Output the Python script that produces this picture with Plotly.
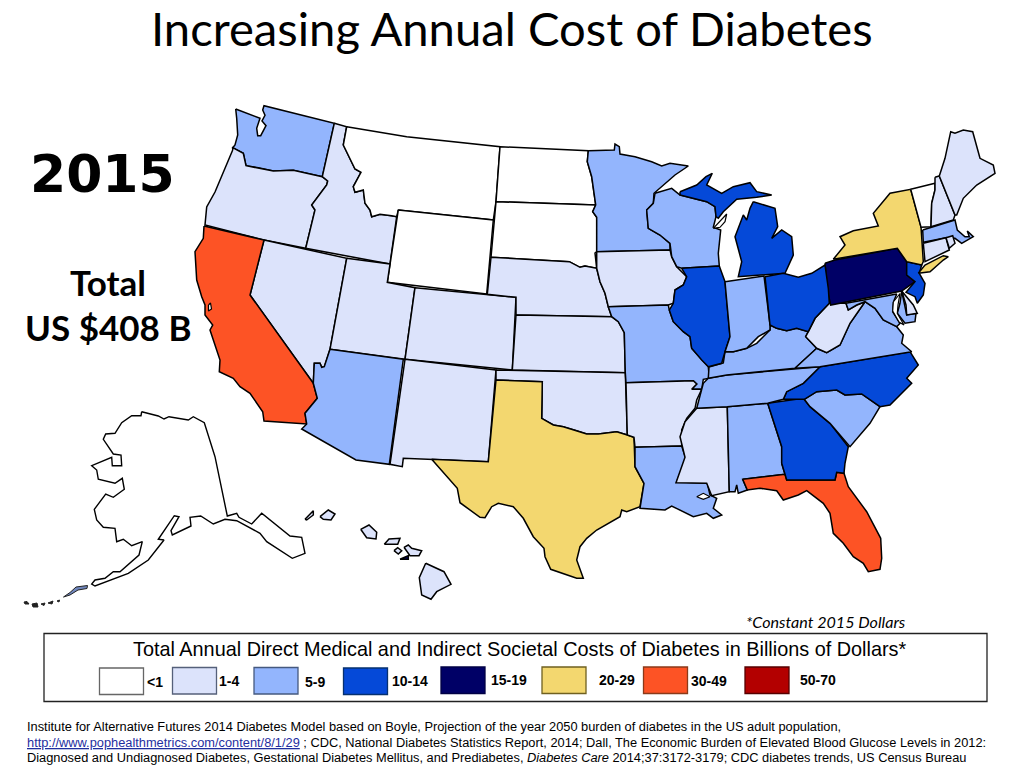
import plotly.graph_objects as go

# ---- legend / cost bands ----
band_labels = ["<1", "1-4", "5-9", "10-14", "15-19", "20-29", "30-49", "50-70"]
band_colors = ["#ffffff", "#dce3fb", "#93b5fd", "#0549d8", "#000066", "#f3d76f", "#fd5325", "#b30000"]
band_edges = ["#666666", "#55607a", "#45597f", "#06306f", "#000044", "#6f6020", "#8a3a1a", "#550000"]
swatch_x0 = [99.5, 172.5, 254, 343.5, 441, 542, 643.5, 745]
swatch_y0 = [668, 667.5, 667.5, 668, 667, 667, 667, 667]
label_x = [145, 217, 303, 390, 489, 597, 689, 798]
label_y = [682, 681, 682, 681, 680, 680, 681, 680]

# ---- cost band of each region ----
band = {
    "Washington": "5-9", "Oregon": "1-4", "California": "30-49", "Idaho": "1-4", "Montana": "<1",
    "Wyoming": "<1", "Nevada": "1-4", "Utah": "1-4", "Colorado": "1-4", "New Mexico": "1-4",
    "Arizona": "5-9", "North Dakota": "<1", "South Dakota": "<1", "Nebraska": "1-4", "Kansas": "1-4",
    "Oklahoma": "1-4", "Texas": "20-29", "Minnesota": "5-9", "Iowa": "1-4", "Missouri": "5-9",
    "Arkansas": "1-4", "Louisiana": "5-9", "Mississippi": "1-4", "Alabama": "5-9", "Florida": "30-49",
    "Georgia": "10-14", "South Carolina": "5-9", "North Carolina": "10-14", "Tennessee": "5-9",
    "Kentucky": "5-9", "Virginia": "5-9", "West Virginia": "1-4", "Maryland": "5-9", "Delmarva": "5-9",
    "Delaware": "1-4", "Pennsylvania": "15-19", "New Jersey": "10-14", "New York": "20-29",
    "Long Island": "20-29", "Vermont": "<1", "New Hampshire": "1-4", "Maine": "1-4",
    "Massachusetts": "5-9", "Connecticut": "1-4", "Rhode Island": "1-4", "Wisconsin": "5-9",
    "Michigan UP": "10-14", "Michigan LP": "10-14", "Illinois": "10-14", "Indiana": "5-9", "Ohio": "10-14",
    "Alaska": "<1", "Niihau": "1-4", "Kauai": "1-4", "Oahu": "1-4", "Molokai": "1-4", "Lanai": "1-4",
    "Maui": "1-4", "Kahoolawe": "15-19", "Hawaii": "1-4",
}

# ---- outlines ----
outlines = {
    "Alaska": [(141.7,411.7),(158.3,416),(164,419),(169,416.7),(188.3,420),(193.3,416.7),(204.3,422.7),(215,456.7),(227.3,516),(236.7,513.3),(239,517.3),(251.7,524),(261.7,513.3),(290,536),(301.7,537.3),(305,553.3),(292.3,558.3),(266.7,541.7),(260,533.3),(236.7,520.7),(225,519.3),(213.3,524),(200.7,516),(190,517.3),(191,526),(178.3,531.7),(172.3,535),(171,530.7),(179,516.7),(174.3,515.7),(158.3,539.3),(164,540),(148.3,560),(128.3,573.3),(95,586),(91.7,584),(95,580),(105,578.3),(113.3,571.7),(120,571.7),(139,555),(142.3,541.7),(131.7,545.7),(123.3,539.3),(116.7,541.7),(115,528.3),(103.3,527.3),(96.7,520),(94.3,509.3),(105.7,494),(113.3,497.3),(124.3,489.3),(122.3,478.3),(115,483.3),(98.3,479.3),(96.7,470),(91.7,465.7),(111.7,457.3),(112.3,465.7),(121.7,465.7),(121,455),(113.3,454),(103.3,439.3),(105.7,434),(115,433.3),(121.7,422.7),(131.7,415.7),(141,415.7)],
    "Washington": [(235.7,109),(236.7,118.3),(237.7,135),(235,145),(232.7,147.7),(243.3,153.3),(246,165.7),(258.3,167.7),(273.3,171),(293.3,170.3),(322.3,176.7),(334.3,123.3),(264,105.7),(262.7,110),(265,115.3),(262,121),(266,125.7),(260.7,135.7),(257.7,135.7),(256.7,128.3),(260,118.3)],
    "Oregon": [(232.7,150),(223,172),(215,192),(206.7,207),(205,225),(264,240),(305.7,248.3),(315,210),(311.7,205),(326.7,185),(327.7,181),(322.3,176.7),(293.3,170.3),(273.3,171),(258.3,167.7),(246,165.7),(243.3,153.3),(232.7,147.7)],
    "Idaho": [(334.3,123.3),(346.7,126.7),(343.3,145),(350,158.3),(355,169),(361,172.3),(353.3,186.7),(355,192.3),(363.3,190),(365,203.3),(370,210),(371.7,216.7),(380,214.3),(391.7,215.7),(396.7,216.7),(390,264),(305.7,248.3),(315,210),(311.7,205),(326.7,185),(327.7,181),(322.3,176.7)],
    "Montana": [(346.7,126.7),(406.7,136.7),(500,146.7),(496,201.7),(493.3,220),(398.3,210),(396.7,216.7),(391.7,215.7),(380,214.3),(371.7,216.7),(370,210),(365,203.3),(363.3,190),(355,192.3),(353.3,186.7),(361,172.3),(355,169),(350,158.3),(343.3,145)],
    "Wyoming": [(398.3,210),(493.3,220),(486.7,294),(387.3,282.3)],
    "Nevada": [(264,240),(346.7,258.3),(330,349.3),(324.3,366.7),(321.7,367.3),(320,363.3),(314.3,363.3),(313.3,383.3),(250,295)],
    "California": [(204,226),(264,240),(250,295),(313.3,383.3),(317.3,398.3),(305,413.3),(306.7,424),(264,421),(262.7,411.7),(250,393.3),(240,386.7),(233.3,378.3),(219.3,371.7),(220,360),(210,330),(212.7,325),(205,315),(205,305),(201.7,296.7),(196.7,280),(195,251.7),(203.3,238.3)],
    "Utah": [(346.7,258.3),(390,264),(387.3,282.3),(415,287.7),(405,359.3),(330,349.3)],
    "Colorado": [(415,287.7),(516,297.3),(512.3,370),(405,359.3)],
    "New Mexico": [(405,359.3),(496,370),(488.3,461.7),(431.7,459),(403.3,458.3),(402.3,466.7),(390,464.3)],
    "Arizona": [(330,349.3),(403.3,359.3),(389.3,464.3),(356,460),(301.7,429),(306.7,424),(305,413.3),(317.3,398.3),(313.3,383.3),(314.3,363.3),(320,363.3),(321.7,367.3),(324.3,366.7)],
    "North Dakota": [(500,146.7),(588.3,150.7),(587.3,161.7),(591.7,176.7),(595.7,205),(496,201.7)],
    "South Dakota": [(496,201.7),(595.7,205),(592.7,211.7),(596.7,217.3),(596.7,251.7),(595,253),(596.7,268.3),(585,266),(580,267.3),(569.3,261.7),(491,257.3)],
    "Nebraska": [(491,257.3),(569.3,261.7),(580,267.3),(585,266),(596.7,268.3),(600,281.7),(605,293.3),(608.3,306.7),(611.7,316.7),(516,315),(516,297.3),(487.3,294.3)],
    "Kansas": [(516,315),(611.7,316.7),(618.3,321.7),(624.3,332.7),(625.3,372.7),(512.3,370)],
    "Oklahoma": [(496,370),(625.3,372.7),(627.3,435),(616.7,431.7),(598.3,434),(586.7,434),(576.7,430.7),(563.3,426.7),(553.3,425),(541.7,418.3),(542.3,381.7),(496,380)],
    "Texas": [(496,380),(542.3,381.7),(541.7,418.3),(553.3,425),(563.3,426.7),(576.7,430.7),(586.7,434),(598.3,434),(616.7,431.7),(627.3,435),(634,437.3),(635,466.7),(644,483.3),(640,506.7),(626.7,511.7),(621.7,510),(620,516.7),(596.7,530),(586.7,538.3),(580,546.7),(576.7,560),(583.3,578.3),(576.7,578.3),(550.7,569.3),(545,556.7),(544,548.3),(533.3,536.7),(523.3,518.3),(513.3,506.7),(498.3,503.3),(491.7,506.7),(485,517.7),(480,517.3),(460,502.7),(457.3,488.3),(431.7,459.3),(488.3,461.7)],
    "Minnesota": [(588.3,150.7),(614.3,150),(615,144),(619.3,146.7),(620,154),(635,156.7),(651.7,161.7),(661.7,166),(670,163.3),(688.3,166),(675,175),(656.7,191.7),(654,193.3),(653.3,203.3),(646.7,210),(648.3,228.3),(660,235),(670,243.3),(670,250),(596.7,251.7),(596.7,217.3),(592.7,211.7),(595.7,205),(591.7,176.7),(587.3,161.7)],
    "Iowa": [(596.7,251.7),(670,250),(671.7,256.7),(676.7,266.7),(686.7,276.7),(683.3,285),(675,290),(673.3,303.3),(668.3,305),(608.3,306.7),(605,293.3),(600,281.7),(596.7,268.3)],
    "Missouri": [(608.3,306.7),(668.3,305),(669.3,310),(673.3,321.7),(683.3,331.7),(690,336.7),(691.7,348.3),(701.7,360),(708.3,366.7),(709.3,378.3),(703.3,379.3),(701.7,389.3),(691.7,389.3),(696.7,384),(693.3,380.7),(626,382.7),(625.3,372.7),(624.3,332.7),(618.3,321.7),(611.7,316.7)],
    "Arkansas": [(626,382.7),(693.3,380.7),(696.7,384),(691.7,389.3),(701.7,389.3),(696.7,400),(695,408.3),(686.7,418.3),(681.7,430),(681.7,446),(635,447.3),(634,437.3),(627.3,435)],
    "Louisiana": [(635,447.3),(681.7,446),(685.7,458.3),(676.7,481.7),(707.3,483.3),(710,495),(716.7,498.3),(713.3,508.3),(721.7,515),(713.3,518.3),(706.7,513.3),(693.3,516.7),(671.7,506),(665,510),(640,508.3),(644,483.3),(635,466.7)],
    "Mississippi": [(696.7,408.3),(727.3,406.7),(729.3,491.7),(711.7,495.7),(706.7,483.3),(676,482.7),(685,457.3),(680,436.7),(685,421.7)],
    "Alabama": [(727.3,406.7),(767.7,403.3),(781.7,446.7),(781.7,463.3),(785,474.3),(742.7,479.3),(747.3,490),(738.3,493.3),(736.7,485),(735,491.7),(729.3,491.7)],
    "Florida": [(742.7,479.3),(785,474.3),(786.7,480),(835,480),(836.7,472.3),(844,473.3),(848.3,486.7),(866.7,511.7),(880.7,538.3),(881.7,558.3),(880,569.3),(868.3,571.7),(863.3,563.3),(853.3,556.7),(843.3,543.3),(833.3,533.3),(830,513.3),(823.3,503.3),(806.7,490.7),(798.3,495),(783.3,500),(776.7,490.7),(760,488.3),(747.3,490)],
    "Georgia": [(767.7,403.3),(803.3,398.3),(810,406.7),(830,423.3),(848.3,446.7),(845,463.3),(844,473.3),(836.7,472.3),(835,480),(786.7,480),(785,474.3),(781.7,463.3),(781.7,446.7)],
    "South Carolina": [(804.3,399.3),(816.7,391.7),(836.7,390),(845,395),(861.7,394),(880,406.7),(870,423.3),(850,446.7),(830,423.3),(810,406.7)],
    "North Carolina": [(910,351.7),(918.3,365),(906.7,378.3),(911.7,383.3),(890,405),(880,406.7),(861.7,394),(845,395),(836.7,390),(816.7,391.7),(804.3,399.3),(783.3,399.3),(786.7,391.7),(803.3,383.3),(820,366.7)],
    "Tennessee": [(708.3,378.3),(726.7,375),(820,366.7),(803.3,383.3),(786.7,391.7),(783.3,399.3),(767.7,403.3),(727.3,406.7),(696.7,408.3),(701,390),(703.3,383.3)],
    "Kentucky": [(708.3,378.3),(709,367),(723.3,363),(725,351.7),(733.3,351.7),(746.7,348.3),(756.7,343.3),(770,330),(770,325),(776.7,328.3),(786.7,330.7),(796.7,328.3),(808.3,331.7),(805.7,336.7),(816.7,348.3),(795,368.3),(726.7,375)],
    "Virginia": [(795,368.3),(816.7,348.3),(826.7,352.7),(840,345),(850,323.3),(865,301.7),(875,308.3),(883.3,320),(886.7,321.7),(896.7,326.7),(903.3,335),(901.7,343.3),(911.7,351.7),(820,366.7)],
    "West Virginia": [(829.3,303.3),(846,303.3),(848.3,310),(856.7,305),(865,301.7),(850,323.3),(840,345),(826.7,352.7),(816.7,348.3),(805.7,336.7),(808.3,331.7),(815,318.3)],
    "Maryland": [(846,303.3),(896.7,294),(893.5,302),(892.7,311.7),(900,323.3),(896.7,326.7),(886.7,321.7),(883.3,320),(875,308.3),(865,301.7),(856.7,305),(848.3,310)],
    "Delmarva": [(901.7,291),(906.7,315),(916,313.3),(915,321.7),(905,323.3),(897.3,313.3),(900,303.3)],
    "Delaware": [(901.7,291),(905,295),(913.3,305),(917.3,313.3),(906.7,315),(906,305)],
    "Pennsylvania": [(825,263.3),(835,260),(897.3,248.3),(906.7,261.7),(906.7,275),(915,281.7),(901.7,291),(830.7,305),(827.3,290)],
    "New Jersey": [(906.7,261.7),(921.7,265),(919.3,273.3),(925,283.3),(923.3,295),(917.3,303.3),(915,296.7),(906,292.3),(915,281.7),(906.7,275)],
    "New York": [(833.3,259.3),(845,245),(840,236.7),(853.3,230.7),(878.3,226),(873.3,213.3),(890,193.3),(910.7,189.3),(921,226.7),(923.3,261.7),(921.7,265),(906.7,261.7),(897.3,248.3)],
    "Long Island": [(918.3,273.3),(925,265),(943.3,255.7),(948.3,256.7),(943.3,260),(930,271.7)],
    "Vermont": [(910.7,189.3),(935,183.3),(935,190),(931.7,203.3),(931,226.7),(921,227.3)],
    "New Hampshire": [(935,177.3),(939.3,176),(955,215),(953.3,220),(931,226.7),(931.7,203.3),(935,190)],
    "Maine": [(939.3,176),(945,158.3),(950.7,131.7),(955,133.3),(963.3,130),(972.7,131.7),(980,158.3),(993.3,165),(995,173.3),(976.7,185),(963.3,198.3),(956.7,215),(955,215)],
    "Massachusetts": [(922.7,230),(955,220),(957.3,230),(965,236.7),(969.3,236.7),(967.3,231),(973.3,236.7),(961.7,243.3),(955,238.3),(946,237.7),(923.3,242.3)],
    "Connecticut": [(923.3,243.3),(946,237.7),(949.3,250),(925,261.7)],
    "Rhode Island": [(946,237.7),(952.7,235.7),(955,243.3),(949.3,248.3)],
    "Wisconsin": [(655,193.3),(671.7,188.3),(680,195),(706.7,201.7),(715,206.7),(716,216.7),(713.3,227.3),(720.7,230),(718.3,253.3),(719.3,266),(681.7,268.3),(676.7,266.7),(671.7,256.7),(670,243.3),(660,235),(648.3,228.3),(646.7,210),(653.3,203.3)],
    "Michigan UP": [(680,191.7),(696.7,185),(706,176.7),(712.3,173.3),(706.7,185),(721.7,193.3),(733.3,186.7),(750,182.7),(756.7,191.7),(771.7,195),(756.7,197.3),(736.7,199.3),(723.3,211.7),(718.3,218.3),(716,216.7),(715,206.7),(706.7,201.7),(680,195)],
    "Michigan LP": [(753.3,201.7),(775,208.3),(777.7,226.7),(771.7,238.3),(781.7,230),(791.7,236.7),(793.3,255),(785,273.3),(738.3,276.7),(741.7,261.7),(735,236.7),(743.3,215),(746.7,220),(750,208.3)],
    "Illinois": [(681.7,268.3),(719.3,266),(725,281.7),(730,336.7),(725,351.7),(721.7,363.3),(708.3,366.7),(701.7,360),(691.7,348.3),(690,336.7),(683.3,331.7),(673.3,321.7),(669.3,310),(673.3,303.3),(675,290),(683.3,285),(686.7,276.7)],
    "Indiana": [(725,281.7),(764,276),(770,325),(770,330),(758.3,336.7),(746.7,348.3),(733.3,351.7),(725,351.7),(730,336.7)],
    "Ohio": [(765,276.7),(783.3,273.3),(798.3,277.3),(811.7,273.3),(825,265),(828.3,288.3),(829.3,303.3),(815,318.3),(808.3,331.7),(796.7,328.3),(786.7,330.7),(776.7,328.3),(770,325)],
    "Niihau": [(305,519.3),(313.3,510.7),(313.3,515),(306.7,520)],
    "Kauai": [(320,516.7),(328.3,510),(335,514),(331,520),(323.3,519.3)],
    "Oahu": [(360.7,529.3),(369,525),(376.7,532.3),(376,539),(366.7,537.7)],
    "Molokai": [(384.3,544.3),(389,539),(400,538.3),(397.7,544.3)],
    "Lanai": [(394,550.7),(397.7,547.7),(401.7,550.7),(398.3,554)],
    "Maui": [(404,547.3),(408.3,545),(411.7,548.3),(421.7,550.7),(419,555.7),(410,555.7)],
    "Kahoolawe": [(400,559.3),(408.3,555.7),(408.3,559.3)],
    "Hawaii": [(425.7,563.3),(444,571.7),(451,584.3),(436.7,591.7),(431,599.3),(421.7,595),(419.3,577.7)],
}

# water bodies and small islands drawn on top
water = {
    "San Francisco Bay": [(208.5,305),(210.5,303),(211.5,309),(208.5,311)],
    "Lake Pontchartrain": [(696.7,496.7),(703.3,493.3),(710,496.7),(703.3,499.3)],
    "Green Bay": [(713.3,228.3),(726.7,214),(725,221.7),(720,227.3)],
    "Chesapeake Bay": [(893.3,302),(900,293.5),(898,305),(897.3,313.3),(904,325),(899,322),(892.7,311)],
}
aleutians = {
    "A1": [(24,602),(27,601.5),(29,604),(25,604)],
    "A2": [(32,604),(37,603),(38,607),(33,607)],
    "A3": [(41,604),(45,603),(44,605.5)],
    "A4": [(48,603),(53,601),(52,604)],
    "A5": [(57,601),(59.5,600),(59,602)],
    "A6": [(63.5,597),(70,592.5),(76,587),(87.5,585.5),(87,588.5),(78,590),(70,595)],
}
aleutian_colors = ["#222222", "#222222", "#222222", "#222222", "#222222", "#6f86bd"]

fig = go.Figure()
color_of = dict(zip(band_labels, band_colors))


def add_poly(name, pts, fill, width=1.7, line="#000000", hover=True):
    xs = [p[0] for p in pts] + [pts[0][0]]
    ys = [p[1] for p in pts] + [pts[0][1]]
    fig.add_trace(go.Scatter(
        x=xs, y=ys, mode="lines", fill="toself", fillcolor=fill, name=name,
        line=dict(color=line, width=width, shape="linear"), showlegend=False,
        hoverinfo="name" if hover else "skip",
    ))


for state, pts in outlines.items():
    add_poly(state, pts, color_of[band[state]], width=1.5 if state != "Alaska" else 1.4)
for name, pts in water.items():
    add_poly(name, pts, "#ffffff", width=1.2)
for (name, pts), c in zip(aleutians.items(), aleutian_colors):
    add_poly(name, pts, c, width=1.0, line="#222222")


def text(x, y, s, size, family, anchor="left", color="#000000"):
    fig.add_annotation(x=x, y=y, xref="x", yref="y", text=s, showarrow=False, xanchor=anchor, yanchor="middle",
                       font=dict(size=size, family=family, color=color), align=anchor)


text(511.5, 27, "Increasing Annual Cost of Diabetes", 47.2, "Lato", "center")
text(102, 174, "<b>2015</b>", 52, "DejaVu Sans", "center")
text(108, 282, "<b>Total</b>", 35, "Lato", "center")
text(108, 327, "<b>US $408 B</b>", 35, "Lato", "center")
text(825.5, 621, "<i>*Constant 2015 Dollars</i>", 16.1, "Lato", "center")

SANS = "Liberation Sans"
text(519, 649, "Total Annual Direct Medical and Indirect Societal Costs of Diabetes in Billions of Dollars*", 19.85, SANS, "center")

fig.add_shape(type="rect", xref="x", yref="y", x0=44, x1=987, y0=633.5, y1=701.5,
              line=dict(color="#222222", width=1.3), fillcolor="rgba(0,0,0,0)")
for lab, c, e, x0, y0, lx, ly in zip(band_labels, band_colors, band_edges, swatch_x0, swatch_y0, label_x, label_y):
    fig.add_shape(type="rect", xref="x", yref="y", x0=x0, x1=x0 + 44, y0=y0, y1=y0 + 26.5,
                  line=dict(color=e, width=1.3), fillcolor=c)
    text(lx, ly, "<b>" + lab.replace("<", "&lt;") + "</b>", 14, SANS, "left")

FOOT = 12.82
text(25, 726, "Institute for Alternative Futures 2014 Diabetes Model based on Boyle, Projection of the year 2050 burden of diabetes in the US adult population,", FOOT, SANS)
text(25, 742, '<span style="color:#1f2f9f;text-decoration:underline">http://www.pophealthmetrics.com/content/8/1/29</span> ; CDC, National Diabetes Statistics Report, 2014; Dall, The Economic Burden of Elevated Blood Glucose Levels in 2012:', FOOT, SANS)
text(25, 757, "Diagnosed and Undiagnosed Diabetes, Gestational Diabetes Mellitus, and Prediabetes, <i>Diabetes Care</i> 2014;37:3172-3179; CDC diabetes trends, US Census Bureau", FOOT, SANS)

fig.update_layout(
    width=1024, height=768, margin=dict(l=0, r=0, t=0, b=0),
    paper_bgcolor="#ffffff", plot_bgcolor="#ffffff", showlegend=False,
    xaxis=dict(range=[0, 1024], visible=False, fixedrange=True),
    yaxis=dict(range=[768, 0], visible=False, fixedrange=True),
)
fig.write_html("out.html", config={"displayModeBar": False},
               post_script="document.body.style.margin='0';document.documentElement.style.overflow='hidden';")
